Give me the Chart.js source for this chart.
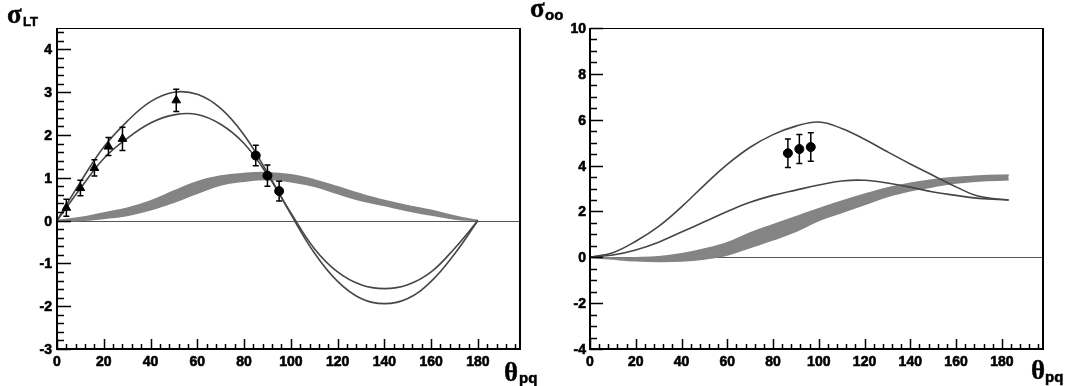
<!DOCTYPE html>
<html>
<head>
<meta charset="utf-8">
<script src="https://cdn.jsdelivr.net/npm/chart.js@4.4.1/dist/chart.umd.min.js"></script>
<style>
  body { margin: 0; background: #fff; }
  #wrap { position: relative; width: 1091px; height: 386px; overflow: hidden; }
  canvas { position: absolute; top: 0; }
  .sym { position: absolute; font-family: 'Liberation Serif', 'DejaVu Serif', serif; font-weight: bold; color: #000; line-height: 1; -webkit-text-stroke: 0.4px #000; }
  .sub { position: absolute; font-family: 'Liberation Sans', Arial, sans-serif; font-weight: bold; color: #000; line-height: 1; -webkit-text-stroke: 0.5px #000; }
  .tick { position: absolute; width: 40px; font: bold 14px 'Liberation Sans', Arial, sans-serif; line-height: 14px; color: #000; -webkit-text-stroke: 0.6px #000; }
</style>
</head>
<body>
<div id="wrap">
  <canvas id="ltChart" width="545" height="386" style="left:0"></canvas>
  <canvas id="ooChart" width="546" height="386" style="left:545px"></canvas>

  <span class="sym" style="left:7px;top:1px;font-size:27px">σ</span>
  <span class="sub" style="left:23px;top:15px;font-size:13px">LT</span>
  <span class="sym" style="left:530px;top:-5px;font-size:27px">σ</span>
  <span class="sub" style="left:545px;top:7px;font-size:15px">oo</span>

  <span class="sym" style="left:504px;top:359px;font-size:27px">θ</span>
  <span class="sub" style="left:519px;top:370px;font-size:15px">pq</span>
  <span class="sym" style="left:1031px;top:357px;font-size:27px">θ</span>
  <span class="sub" style="left:1045px;top:369px;font-size:15px">pq</span>
</div>

<script>
// ---- sigma_LT panel (left) ----
const ltTheta   = [0, 10, 20, 30, 40, 50, 60, 70, 80, 90, 100, 110, 120, 130, 140, 150, 160, 170, 180];
const ltCurveA  = [0, 0.9, 1.72, 2.32, 2.78, 3.0, 2.95, 2.62, 2.0, 1.12, 0.15, -0.75, -1.42, -1.82, -1.94, -1.82, -1.42, -0.78, 0];
const ltCurveB  = [0, 0.75, 1.45, 1.92, 2.28, 2.47, 2.48, 2.25, 1.8, 1.07, 0.18, -0.65, -1.2, -1.5, -1.59, -1.5, -1.2, -0.65, 0];
const ltBandHi  = [0, 0.07, 0.18, 0.29, 0.46, 0.69, 0.91, 1.04, 1.1, 1.12, 1.07, 0.95, 0.79, 0.62, 0.47, 0.35, 0.24, 0.11, 0];
const ltBandLo  = [0, 0.0, 0.05, 0.12, 0.25, 0.43, 0.64, 0.83, 0.92, 0.96, 0.91, 0.8, 0.63, 0.47, 0.35, 0.23, 0.13, 0.04, 0];

const ltTriX   = [4, 10, 16, 22, 28, 51];
const ltTriY   = [0.30, 0.76, 1.23, 1.73, 1.91, 2.81];
const ltTriErr = [0.20, 0.18, 0.19, 0.21, 0.27, 0.26];
const ltDotX   = [85, 90, 95];
const ltDotY   = [1.52, 1.05, 0.69];
const ltDotErr = [0.24, 0.25, 0.23];

// ---- sigma_oo panel (right) ----
const ooTheta   = [0, 10, 20, 30, 40, 50, 60, 70, 80, 90, 100, 110, 120, 130, 140, 150, 160, 170, 183];
const ooCurveC  = [0, 0.2, 0.7, 1.35, 2.2, 3.15, 4.05, 4.8, 5.35, 5.72, 5.9, 5.62, 5.15, 4.6, 4.07, 3.57, 3.07, 2.66, 2.5];
const ooCurveD  = [0, 0.1, 0.32, 0.66, 1.1, 1.55, 2.0, 2.4, 2.7, 2.93, 3.15, 3.33, 3.36, 3.24, 3.06, 2.85, 2.7, 2.57, 2.5];
const ooBandHi  = [0, -0.03, -0.02, 0.02, 0.15, 0.36, 0.64, 1.06, 1.42, 1.77, 2.12, 2.45, 2.75, 3.02, 3.23, 3.38, 3.48, 3.55, 3.59];
const ooBandLo  = [0, -0.08, -0.15, -0.18, -0.16, -0.07, 0.1, 0.43, 0.76, 1.13, 1.6, 1.95, 2.3, 2.65, 2.9, 3.08, 3.24, 3.33, 3.38];

const ooDotX   = [86.5, 91.5, 96.5];
const ooDotY   = [4.54, 4.72, 4.81];
const ooDotErr = [0.62, 0.63, 0.62];

// tick labels
const xTickLabels   = [0, 20, 40, 60, 80, 100, 120, 140, 160, 180];
const ltYTickLabels = [-3, -2, -1, 0, 1, 2, 3, 4];
const ooYTickLabels = [-4, -2, 0, 2, 4, 6, 8, 10];

const CURVE = 'rgb(70,70,70)';
const BAND = 'rgb(132,132,132)';

function pts(xs, ys) {
  return xs.map((x, i) => ({ x: x, y: ys[i] }));
}

// error bars drawn from dataset.errs through the scales
const errorBars = {
  id: 'errorBars',
  afterDatasetsDraw(chart) {
    const { ctx, scales: { x, y } } = chart;
    ctx.save();
    ctx.strokeStyle = '#000';
    ctx.lineWidth = 1.5;
    chart.data.datasets.forEach(ds => {
      if (!ds.errs) return;
      ds.data.forEach((p, i) => {
        const px = x.getPixelForValue(p.x);
        const top = y.getPixelForValue(p.y + ds.errs[i]);
        const bot = y.getPixelForValue(p.y - ds.errs[i]);
        ctx.beginPath();
        ctx.moveTo(px, top); ctx.lineTo(px, bot);
        ctx.moveTo(px - 3, top); ctx.lineTo(px + 3, top);
        ctx.moveTo(px - 3, bot); ctx.lineTo(px + 3, bot);
        ctx.stroke();
      });
    });
    ctx.restore();
  }
};

// ROOT-like frame: zero line, box, inward ticks
const frameTicks = {
  id: 'frameTicks',
  beforeDatasetsDraw(chart) {
    const { ctx, chartArea: a, scales: { y } } = chart;
    const y0 = Math.round(y.getPixelForValue(0)) + 0.5;
    ctx.save();
    ctx.strokeStyle = '#555';
    ctx.lineWidth = 1;
    ctx.beginPath();
    ctx.moveTo(a.left, y0); ctx.lineTo(a.right, y0);
    ctx.stroke();
    ctx.restore();
  },
  afterDraw(chart, args, opts) {
    const { ctx, chartArea: a, scales: { x, y } } = chart;
    ctx.save();
    ctx.strokeStyle = '#000';
    ctx.lineWidth = 1;
    ctx.beginPath();
    ctx.moveTo(a.left, a.top + 0.5); ctx.lineTo(a.right, a.top + 0.5);
    ctx.stroke();
    ctx.lineWidth = 2;
    ctx.beginPath();
    ctx.moveTo(a.left, a.top); ctx.lineTo(a.left, a.bottom);
    ctx.lineTo(a.right, a.bottom); ctx.lineTo(a.right, a.top);
    ctx.stroke();

    ctx.lineWidth = 1.5;
    ctx.beginPath();
    for (let i = 0; ; i++) {
      const v = i * opts.xMinor;
      if (v > x.max) break;
      const major = Math.abs(v % opts.xMajor) < 1e-6;
      const px = Math.round(x.getPixelForValue(v)) + 0.5;
      ctx.moveTo(px, a.bottom);
      ctx.lineTo(px, a.bottom - (major ? 10 : 5));
    }
    for (let i = 0; ; i++) {
      const v = y.min + i * opts.yMinor;
      if (v > y.max + 1e-6) break;
      const r = (v - y.min) / opts.yMajor;
      const major = Math.abs(r - Math.round(r)) < 1e-6;
      const py = Math.round(y.getPixelForValue(v)) + 0.5;
      ctx.moveTo(a.left, py);
      ctx.lineTo(a.left + (major ? opts.yMajLen : 7), py);
    }
    ctx.stroke();
    ctx.restore();
  }
};

// bold tick labels as text placed through the chart's scales
function placeLabels(chart, offsetX, xLabels, yLabels, yPad) {
  const wrap = document.getElementById('wrap');
  const a = chart.chartArea;
  xLabels.forEach(v => {
    const d = document.createElement('div');
    d.className = 'tick';
    d.style.textAlign = 'center';
    d.style.left = (offsetX + chart.scales.x.getPixelForValue(v) - 20) + 'px';
    d.style.top = (a.bottom + 5) + 'px';
    d.textContent = String(v);
    wrap.appendChild(d);
  });
  yLabels.forEach(v => {
    const d = document.createElement('div');
    d.className = 'tick';
    d.style.textAlign = 'right';
    d.style.left = (offsetX + a.left - yPad - 40) + 'px';
    d.style.top = (chart.scales.y.getPixelForValue(v) - 7) + 'px';
    d.textContent = String(v);
    wrap.appendChild(d);
  });
}

function makeScales(yMin, yMax, yWidth) {
  return {
    x: {
      type: 'linear', min: 0, max: 198,
      afterFit: s => { s.height = 37; },
      grid: { display: false, drawTicks: false },
      border: { display: false },
      ticks: { display: false }
    },
    y: {
      type: 'linear', min: yMin, max: yMax,
      afterFit: s => { s.width = yWidth; },
      grid: { display: false, drawTicks: false },
      border: { display: false },
      ticks: { display: false }
    }
  };
}

function bandSets(xs, hi, lo) {
  return [
    { data: pts(xs, hi), borderColor: BAND, backgroundColor: BAND, borderWidth: 1.5, fill: '+1', order: 3, pointRadius: 0, tension: 0.4 },
    { data: pts(xs, lo), borderColor: BAND, backgroundColor: BAND, borderWidth: 1.5, fill: false, order: 3, pointRadius: 0, tension: 0.4 }
  ];
}

function curveSet(xs, ys) {
  return { data: pts(xs, ys), borderColor: CURVE, borderWidth: 1.6, fill: false, order: 2, pointRadius: 0, tension: 0.4 };
}

function markerSet(xs, ys, errs, style) {
  return { data: pts(xs, ys), errs: errs, showLine: false, pointStyle: style, pointRadius: style === 'triangle' ? 5 : 4.5, pointBackgroundColor: '#000', pointBorderColor: '#000', order: 0 };
}

const baseOptions = {
  responsive: false,
  animation: false,
  devicePixelRatio: 1,
  plugins: { legend: { display: false }, tooltip: { enabled: false } }
};

const ltChart = new Chart(document.getElementById('ltChart'), {
  type: 'line',
  data: {
    datasets: [
      markerSet(ltTriX, ltTriY, ltTriErr, 'triangle'),
      markerSet(ltDotX, ltDotY, ltDotErr, 'circle'),
      curveSet(ltTheta, ltCurveA),
      curveSet(ltTheta, ltCurveB),
      ...bandSets(ltTheta, ltBandHi, ltBandLo)
    ]
  },
  options: Object.assign({}, baseOptions, {
    layout: { padding: { top: 28, right: 25, left: 0, bottom: 0 } },
    scales: makeScales(-3, 4.5, 57),
    plugins: Object.assign({}, baseOptions.plugins, {
      frameTicks: { xMinor: 4, xMajor: 20, yMinor: 0.2, yMajor: 1, yMajLen: 14 }
    })
  }),
  plugins: [frameTicks, errorBars]
});

const ooChart = new Chart(document.getElementById('ooChart'), {
  type: 'line',
  data: {
    datasets: [
      markerSet(ooDotX, ooDotY, ooDotErr, 'circle'),
      curveSet(ooTheta, ooCurveC),
      curveSet(ooTheta, ooCurveD),
      ...bandSets(ooTheta, ooBandHi, ooBandLo)
    ]
  },
  options: Object.assign({}, baseOptions, {
    layout: { padding: { top: 28, right: 48, left: 0, bottom: 0 } },
    scales: makeScales(-4, 10, 45),
    plugins: Object.assign({}, baseOptions.plugins, {
      frameTicks: { xMinor: 4, xMajor: 20, yMinor: 0.5, yMajor: 2, yMajLen: 13 }
    })
  }),
  plugins: [frameTicks, errorBars]
});

placeLabels(ltChart, 0, xTickLabels, ltYTickLabels, 5);
placeLabels(ooChart, 545, xTickLabels, ooYTickLabels, 4);
</script>
</body>
</html>
